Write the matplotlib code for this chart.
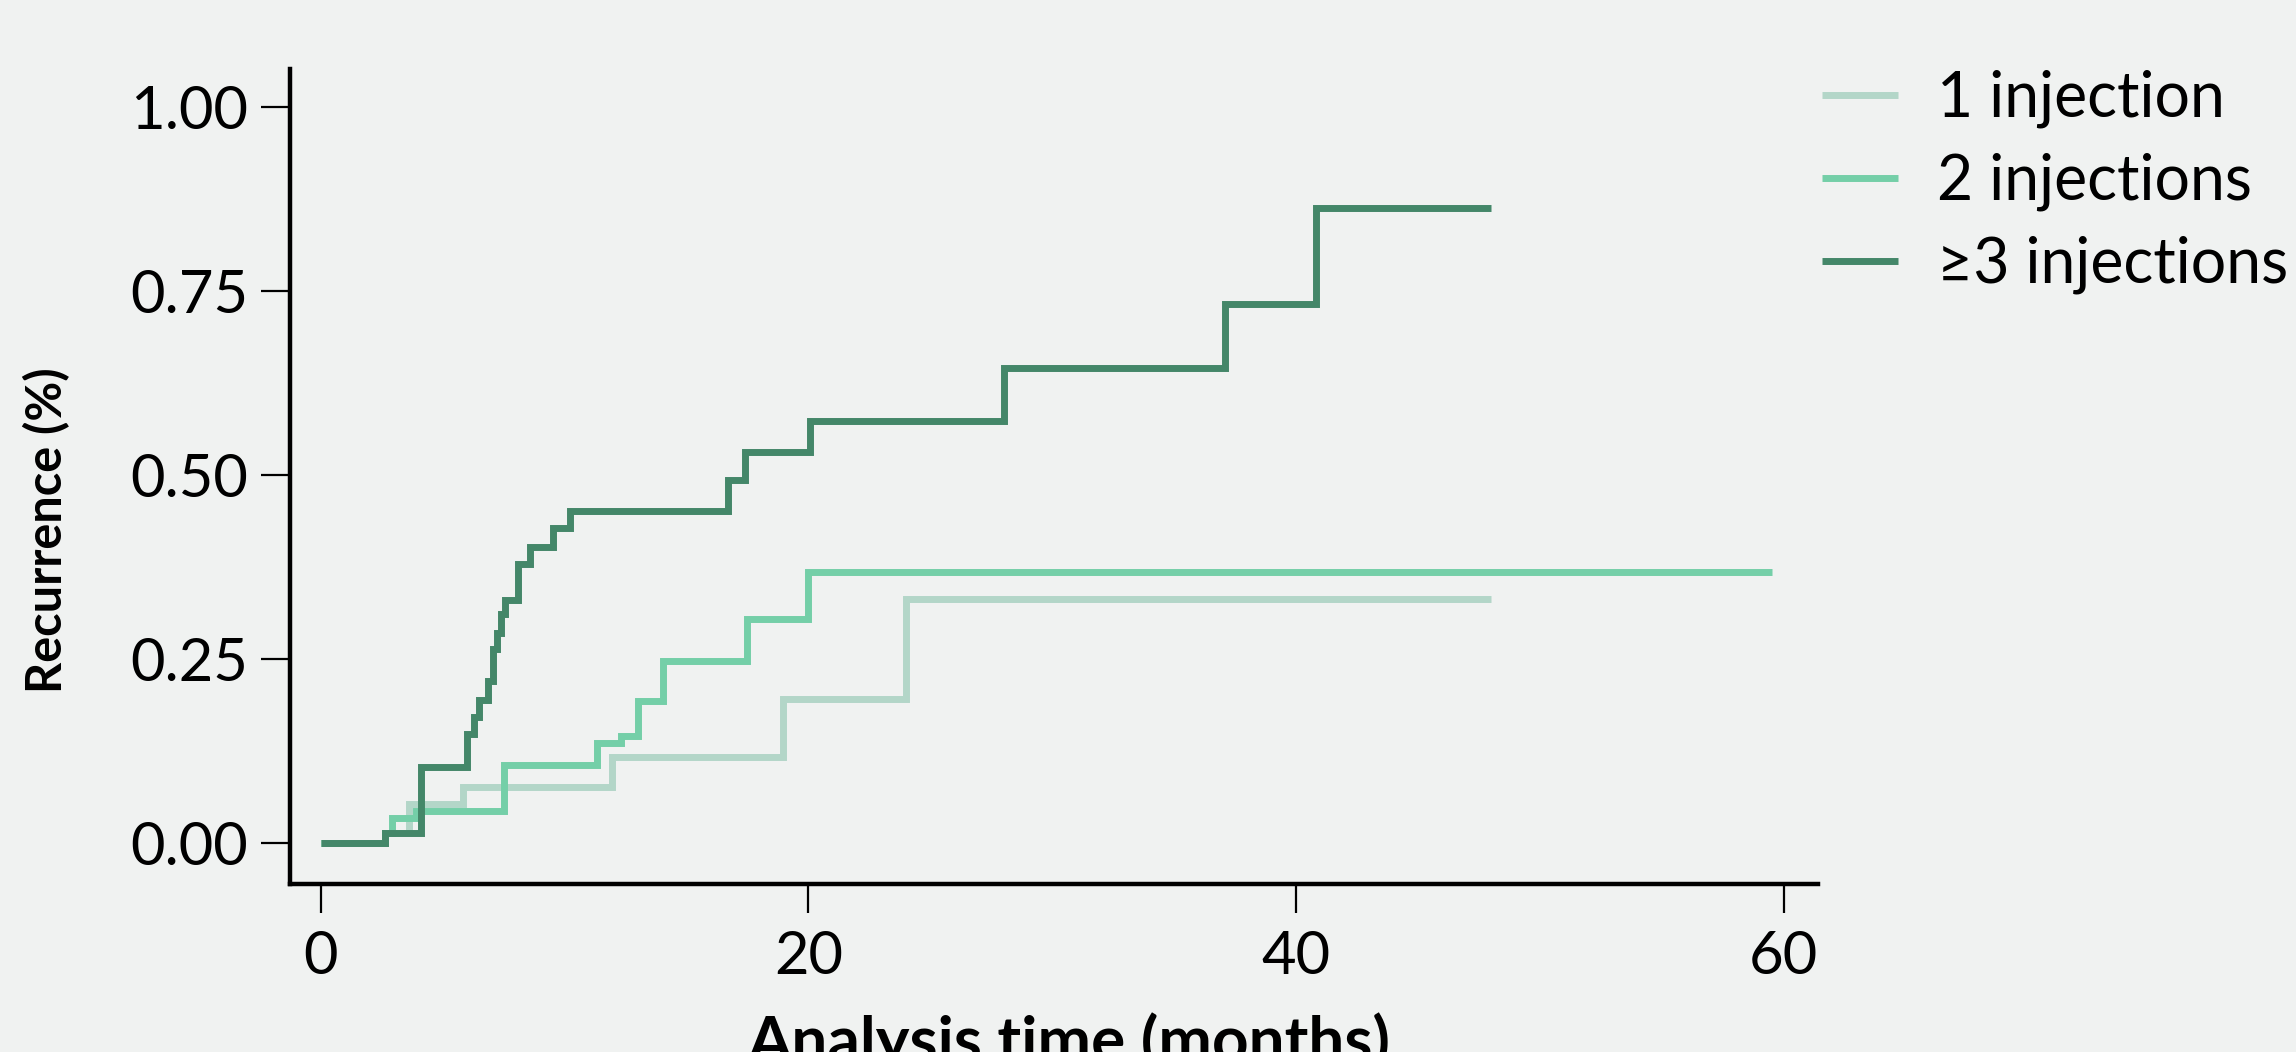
import matplotlib
matplotlib.use("Agg")
import matplotlib.pyplot as plt

# ---- data ----
labels = ["1 injection", "2 injections", "\u22653 injections"]

t1 = [0, 2.64, 3.6, 5.82, 11.96, 18.95, 24.0, 48.0]
y1 = [0, 0.0144, 0.054, 0.076, 0.117, 0.196, 0.332, 0.332]

t2 = [0, 2.64, 2.94, 3.9, 7.53, 11.32, 12.33, 13.0, 14.03, 17.49, 20.0, 59.5]
y2 = [0, 0.0144, 0.034, 0.044, 0.106, 0.136, 0.146, 0.194, 0.248, 0.304, 0.368, 0.368]

t3 = [0, 2.64, 4.11, 6.01, 6.30, 6.51, 6.88, 7.08, 7.22, 7.40, 7.56, 8.07, 8.59,
      9.51, 10.23, 16.7, 17.4, 20.06, 28.0, 37.1, 40.8, 48.0]
y3 = [0, 0.0144, 0.104, 0.149, 0.172, 0.195, 0.221, 0.264, 0.286, 0.311, 0.331,
      0.379, 0.402, 0.428, 0.451, 0.493, 0.531, 0.573, 0.645, 0.732, 0.863, 0.863]

xticks = [0, 20, 40, 60]
yticks = [0.00, 0.25, 0.50, 0.75, 1.00]
ytick_labels = ["0.00", "0.25", "0.50", "0.75", "1.00"]

colors = ["#B3D6C8", "#74CFA8", "#448769"]
bg = "#F0F2F1"

plt.rcParams["font.family"] = ["Lato", "DejaVu Sans"]

W, H = 2296, 1052
fig = plt.figure(figsize=(W / 100, H / 100), dpi=100, facecolor=bg)
ax = fig.add_axes([290 / W, 1 - 884 / H, (1818 - 290) / W, (884 - 69) / H])
ax.set_facecolor(bg)

for t, y, c, lab in zip([t1, t2, t3], [y1, y2, y3], colors, labels):
    ax.step(t, y, where="post", color=c, lw=5, label=lab,
            solid_capstyle="butt", solid_joinstyle="miter")

ax.set_xlim(-1.26, 61.4)
ax.set_ylim(-0.055, 1.051)
ax.set_xticks(xticks)
ax.set_xticklabels([str(v) for v in xticks])
ax.set_yticks(yticks)
ax.set_yticklabels(ytick_labels)

for s in ["top", "right"]:
    ax.spines[s].set_visible(False)
for s in ["left", "bottom"]:
    ax.spines[s].set_linewidth(3.2)
    ax.spines[s].set_color("black")

ax.tick_params(axis="both", labelsize=43, width=1.6, length=21, color="black")
ax.tick_params(axis="y", pad=9)
ax.tick_params(axis="x", pad=12)

fig.text(47 / W, 1 - 530 / H, "Recurrence (%)", rotation=90, ha="center",
         va="center", fontsize=35, fontweight="bold")
fig.text(1069 / W, 1 - 1012 / H, "Analysis time (months)", ha="center",
         va="top", fontsize=46, fontweight="bold")

leg = ax.legend(loc="upper left", bbox_to_anchor=(1822 / W, 1 - 70 / H),
                bbox_transform=fig.transFigure, frameon=False, fontsize=45,
                handlelength=1.22, handletextpad=0.62, labelspacing=0.39,
                borderaxespad=0, borderpad=0)

fig.savefig("out.png", dpi=100, facecolor=bg)
